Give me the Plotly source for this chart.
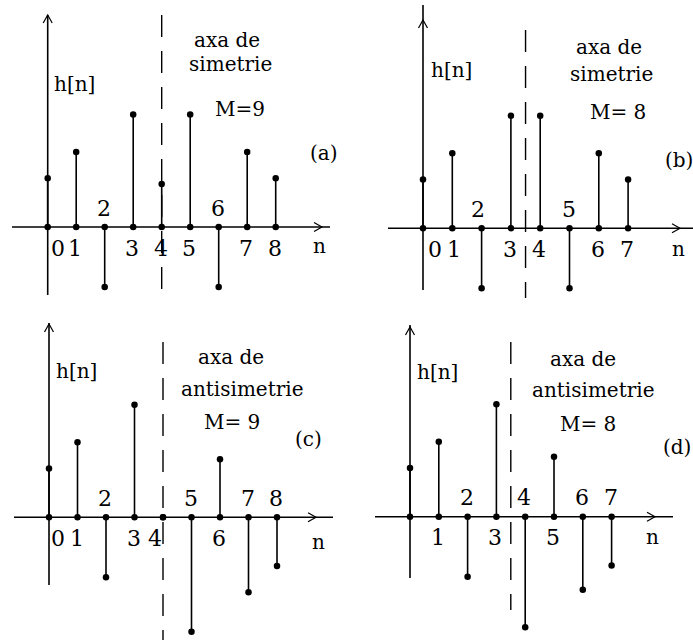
import plotly.graph_objects as go

# Impulse responses h[n] of the four linear-phase FIR types
N_A = list(range(9))
H_A = [1.3, 2.0, -1.6, 3.0, 1.15, 3.0, -1.6, 2.0, 1.3]
N_B = list(range(8))
H_B = [1.3, 2.0, -1.6, 3.0, 3.0, -1.6, 2.0, 1.3]
N_C = list(range(9))
H_C = [1.3, 2.0, -1.6, 3.0, 0.0, -3.05, 1.55, -2.0, -1.3]
N_D = list(range(8))
H_D = [1.3, 2.0, -1.6, 3.0, -2.95, 1.6, -1.95, -1.3]

TICKS_A = ["0", "1", "2", "3", "4", "5", "6", "7", "8"]
TICKS_B = ["0", "1", "2", "3", "4", "5", "6", "7"]
TICKS_C = ["0", "1", "2", "3", "4", "5", "6", "7", "8"]
TICKS_D = ["", "1", "2", "3", "4", "5", "6", "7"]

AXIS_LINE1 = ["axa de", "axa de", "axa de", "axa de"]
AXIS_LINE2 = ["simetrie", "simetrie", "antisimetrie", "antisimetrie"]
M_TEXT = ["M=9", "M= 8", "M= 9", "M= 8"]
TAGS = ["(a)", "(b)", "(c)", "(d)"]

W, H = 693, 641
FONT = dict(family="DejaVu Serif", size=20, color="black")
DIGIT_FONT = dict(family="DejaVu Serif", size=22, color="black")
LW = 1.6

# page geometry of each panel (pixels): origin of n=0, baseline, step per n, px per unit
panels = [
    dict(n=N_A, h=H_A, ticks=TICKS_A, M=9, ox=47.7, base=227.0, dx=28.5, dy=37.5,
         box=(0, 346, 0, 306), xaxis=(12, 330, 322), yaxis=(15, 295, 15), dash=(15, 295),
         hn=(74, 84), ax1=(227, 40), ax2=(230, 64), mtxt=(240, 109), tag=(324, 153),
         nlab=(319, 246), shifts={0: 10}),
    dict(n=N_B, h=H_B, ticks=TICKS_B, M=8, ox=423.0, base=228.3, dx=29.3, dy=37.5,
         box=(350, 693, 0, 306), xaxis=(388, 693, 680), yaxis=(5, 290, 20), dash=(30, 298),
         hn=(451, 70), ax1=(609, 47), ax2=(611, 74), mtxt=(618, 112), tag=(679, 160),
         nlab=(678, 249), shifts={0: 12, 1: 2, 2: -4}),
    dict(n=N_C, h=H_C, ticks=TICKS_C, M=9, ox=49.0, base=517.3, dx=28.5, dy=37.5,
         box=(0, 346, 310, 641), xaxis=(14, 333, 316), yaxis=(323, 585, 324), dash=(342, 640),
         hn=(76, 371), ax1=(231, 357), ax2=(242, 389), mtxt=(232, 422), tag=(308, 439),
         nlab=(318, 542), shifts={0: 9, 4: -8}),
    dict(n=N_D, h=H_D, ticks=TICKS_D, M=8, ox=410.0, base=516.7, dx=28.8, dy=37.5,
         box=(350, 693, 310, 641), xaxis=(375, 673, 655), yaxis=(325, 578, 327), dash=(342, 610),
         hn=(437, 372), ax1=(583, 359), ax2=(593, 390), mtxt=(588, 424), tag=(677, 447),
         nlab=(652, 537), shifts={}),
]

fig = go.Figure()
shapes, annotations = [], []

for i, p in enumerate(panels):
    sfx = "" if i == 0 else str(i + 1)
    xr, yr = "x" + sfx, "y" + sfx
    xl, xrr, yt, yb = p["box"]

    def fx(px, p=p):
        return (px - p["ox"]) / p["dx"]

    def fy(py, p=p):
        return (p["base"] - py) / p["dy"]

    fig.layout["xaxis" + sfx] = dict(domain=[xl / W, xrr / W], range=[fx(xl), fx(xrr)],
                                     visible=False, fixedrange=True, anchor=yr)
    fig.layout["yaxis" + sfx] = dict(domain=[1 - yb / H, 1 - yt / H], range=[fy(yb), fy(yt)],
                                     visible=False, fixedrange=True, anchor=xr)

    # stems
    sx, sy = [], []
    for n, v in zip(p["n"], p["h"]):
        sx += [n, n, None]
        sy += [0, v, None]
    fig.add_trace(go.Scatter(x=sx, y=sy, mode="lines", xaxis=xr, yaxis=yr,
                             line=dict(color="black", width=LW), hoverinfo="skip"))
    # dots on the baseline and at the tips
    fig.add_trace(go.Scatter(x=p["n"] + p["n"], y=[0] * len(p["n"]) + p["h"], mode="markers",
                             xaxis=xr, yaxis=yr, marker=dict(color="black", size=6.5),
                             hoverinfo="skip", cliponaxis=False))

    # coordinate axes with open arrow heads
    x0, x1, xtip = p["xaxis"]
    shapes.append(dict(type="line", xref=xr, yref=yr, x0=fx(x0), x1=fx(x1), y0=0, y1=0,
                       line=dict(color="black", width=LW)))
    shapes.append(dict(type="path", xref=xr, yref=yr, xsizemode="pixel", ysizemode="pixel",
                       xanchor=fx(xtip), yanchor=0, path="M -8 4.5 L 0 0 L -8 -4.5",
                       line=dict(color="black", width=1.2)))
    y0, y1, ytip = p["yaxis"]
    shapes.append(dict(type="line", xref=xr, yref=yr, x0=0, x1=0, y0=fy(y1), y1=fy(y0),
                       line=dict(color="black", width=LW)))
    shapes.append(dict(type="path", xref=xr, yref=yr, xsizemode="pixel", ysizemode="pixel",
                       xanchor=0, yanchor=fy(ytip), path="M -4.5 -8 L 0 0 L 4.5 -8",
                       line=dict(color="black", width=1.2)))

    # axis of (anti)symmetry at n = (M-1)/2, dashes laid from the top down
    d0, d1 = p["dash"]
    c = (p["M"] - 1) / 2
    shapes.append(dict(type="line", xref=xr, yref=yr, x0=c, x1=c, y0=fy(d0), y1=fy(d1),
                       line=dict(color="black", width=1.4, dash="22px,14px")))

    def txt(t, pos, xr=xr, yr=yr, fx=fx, fy=fy):
        annotations.append(dict(text=t, x=fx(pos[0]), y=fy(pos[1]), xref=xr, yref=yr,
                                showarrow=False, xanchor="center", yanchor="middle",
                                font=FONT))

    txt("h[n]", p["hn"])
    txt(AXIS_LINE1[i], p["ax1"])
    txt(AXIS_LINE2[i], p["ax2"])
    txt(M_TEXT[i], p["mtxt"])
    txt(TAGS[i], p["tag"])
    txt("n", p["nlab"])

    # sample indices: above negative samples, below the others
    for n, v, t in zip(p["n"], p["h"], p["ticks"]):
        if not t:
            continue
        annotations.append(dict(text=t, x=n, y=0, xref=xr, yref=yr, showarrow=False,
                                xanchor="center", yanchor="middle", font=DIGIT_FONT,
                                xshift=p["shifts"].get(n, -1),
                                yshift=19 if v < 0 else -21))

fig.update_layout(width=W, height=H, margin=dict(l=0, r=0, t=0, b=0),
                  paper_bgcolor="white", plot_bgcolor="white", showlegend=False,
                  shapes=shapes, annotations=annotations)

fig.write_html("out.html")
